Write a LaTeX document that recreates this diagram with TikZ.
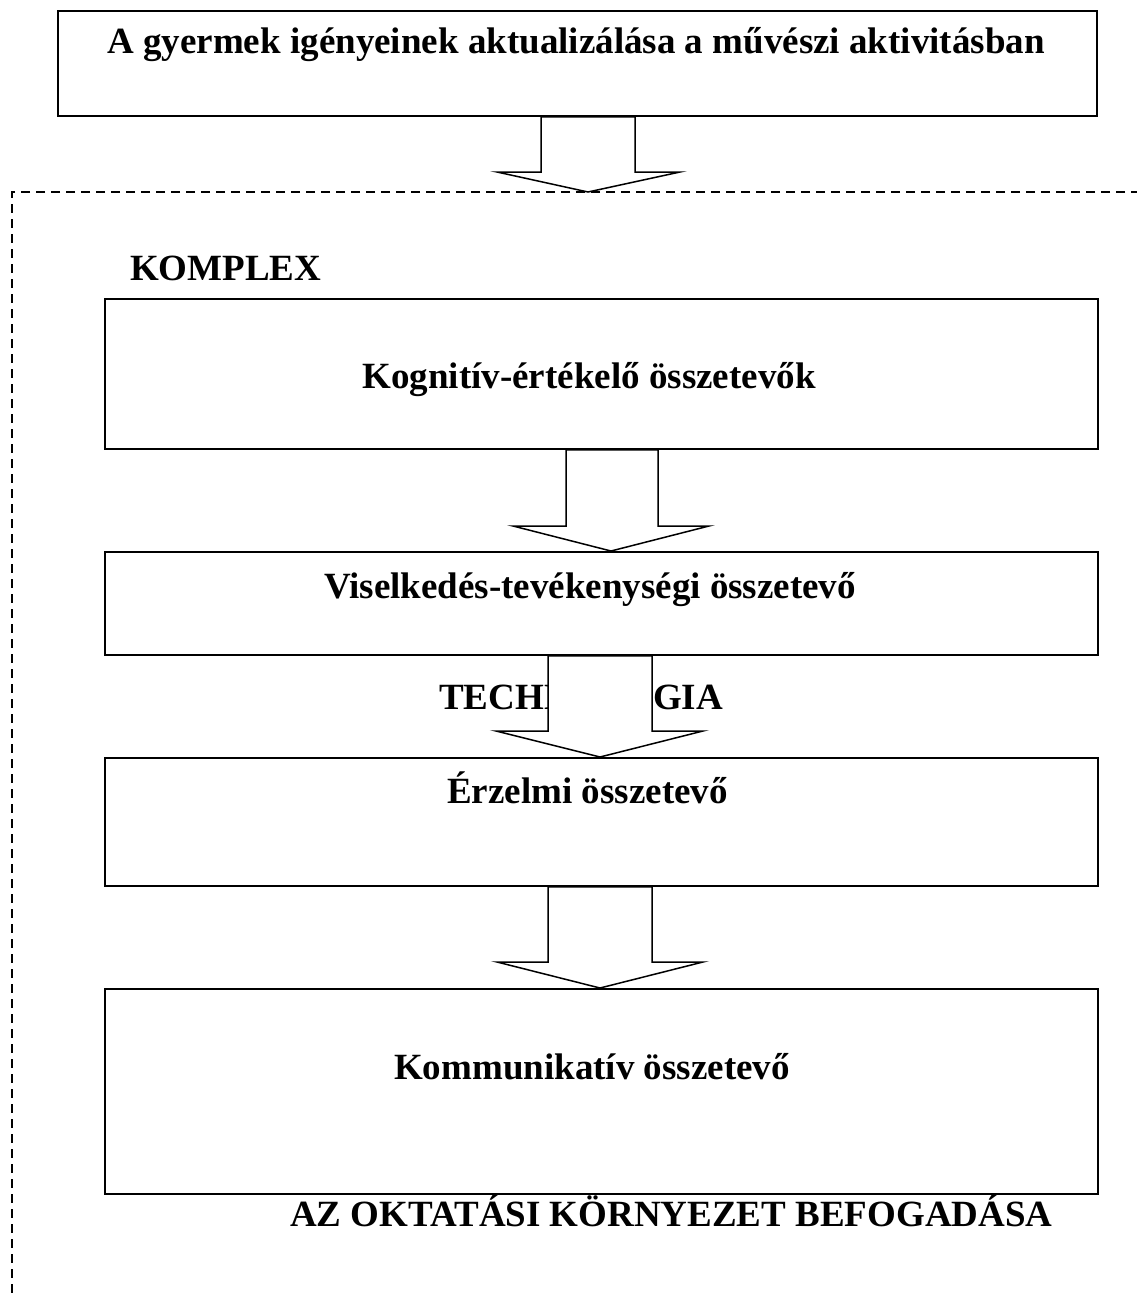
\documentclass[tikz,border=0pt]{standalone}
\usepackage{fontspec}
\setmainfont{Liberation Serif}
\usetikzlibrary{calc}
\newcommand\blockarrow[8]{% from, to, shaft left, shaft right, head left, head right, tip x, head length
  \draw[barrow] let \p1=(#1), \p2=(#2) in
    (#3pt,\y1) -- (#3pt,\y2+#8pt) -- (#5pt,\y2+#8pt) -- (#7pt,\y2)
    -- (#6pt,\y2+#8pt) -- (#4pt,\y2+#8pt) -- (#4pt,\y1) -- cycle;}
\begin{document}
\begin{tikzpicture}[x=1pt,y=-1pt,
  box/.style={draw, line width=1.8pt, inner sep=0pt, anchor=north west},
  lbl/.style={font=\fontsize{37}{40}\selectfont\bfseries, inner sep=0pt, anchor=base},
  barrow/.style={draw, fill=white, line width=1.5pt, line join=miter},
  frame/.style={line width=1.6pt, dash pattern=on 9pt off 6pt}]
\fill[white] (0,0) rectangle (1136,1293);
\useasboundingbox (0,0) rectangle (1136,1293);

% dashed frame
\coordinate (fc) at (12,192);
\draw[frame] (1140,192) -- (fc) -- (12,1300);

% boxes
\node[box, minimum width=1039pt, minimum height=105pt] (top) at (57,10) {};
\node[box, minimum width=993pt, minimum height=150pt] (b2) at (104,298) {};
\node[box, minimum width=993pt, minimum height=103pt] (b3) at (104,551) {};
\node[box, minimum width=993pt, minimum height=128pt] (b4) at (104,757) {};
\node[box, minimum width=993pt, minimum height=205pt] (b5) at (104,988) {};

% texts
\node[lbl] (t1) at (576,53) {A gyermek igényeinek aktualizálása a művészi aktivitásban};
\node[lbl, anchor=base west] (komplex) at (130,280) {KOMPLEX};
\node[lbl] (t2) at (589,388) {Kognitív-értékelő összetevők};
\node[lbl] (t3) at (590,598) {Viselkedés-tevékenységi összetevő};
\node[lbl, anchor=base west] (tech) at (439,709) {TECHNOLOGIA};
\node[lbl] (t4) at (587.5,803) {Érzelmi összetevő};
\node[lbl] (t5) at (592,1079) {Kommunikatív összetevő};
\node[lbl, anchor=base west] (azok) at (290,1226) {AZ OKTATÁSI KÖRNYEZET BEFOGADÁSA};

% block arrows
\blockarrow{top.south}{fc}{541}{635}{497}{680}{588}{20}
\blockarrow{b2.south}{b3.north}{566}{658}{513}{709}{611}{25}
\blockarrow{b3.south}{b4.north}{548}{652}{496}{703}{600}{26}
\blockarrow{b4.south}{b5.north}{548}{652}{497}{703}{600}{26}
\end{tikzpicture}
\end{document}
